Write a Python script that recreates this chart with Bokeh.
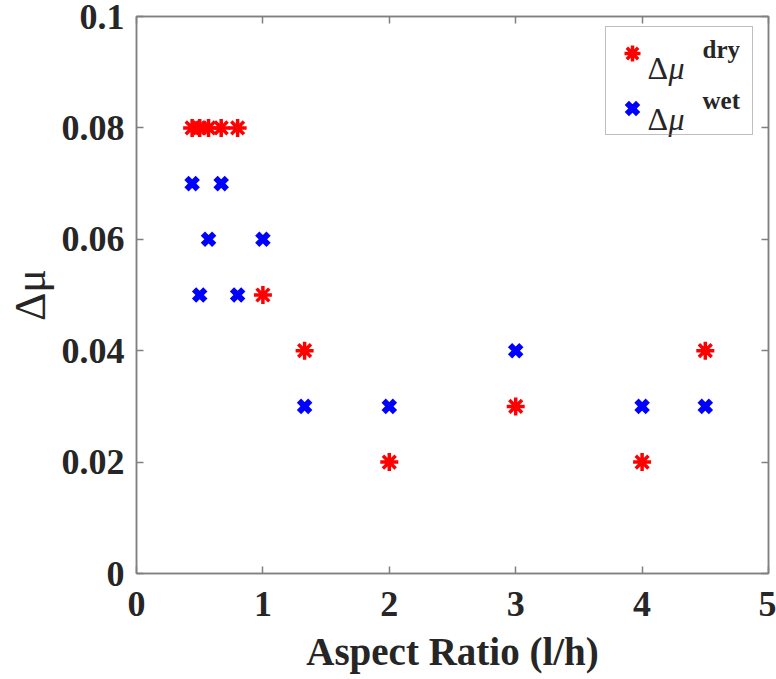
from bokeh.plotting import figure
from bokeh.models import (LinearAxis, FixedTicker, Legend, LegendItem, Label,
                          ColumnDataSource, Range1d)
from bokeh.embed import file_html
from bokeh.resources import INLINE

# ---- data ----
aspect_ratio = [0.44, 0.5, 0.57, 0.67, 0.8, 1.0, 1.33, 2.0, 3.0, 4.0, 4.5]
dmu_dry = [0.08, 0.08, 0.08, 0.08, 0.08, 0.05, 0.04, 0.02, 0.03, 0.02, 0.04]
dmu_wet = [0.07, 0.05, 0.06, 0.07, 0.05, 0.06, 0.03, 0.03, 0.04, 0.03, 0.03]
x_ticks = [0, 1, 2, 3, 4, 5]
y_ticks = [0, 0.02, 0.04, 0.06, 0.08, 0.1]
y_tick_labels = ["0", "0.02", "0.04", "0.06", "0.08", "0.1"]
x_title = "Aspect Ratio (l/h)"
y_title = "Δμ"
series_sup = ["dry", "wet"]

FONT = "Liberation Serif"
GREY = "#808080"
TXT = "#262626"

p = figure(width=776, height=678, output_backend="svg", toolbar_location=None,
           x_range=Range1d(0, 5), y_range=Range1d(0, 0.1),
           min_border_left=136, min_border_right=8, min_border_top=16,
           min_border_bottom=105)
p.xgrid.visible = False
p.ygrid.visible = False
p.outline_line_color = GREY
p.outline_line_width = 1.5
p.background_fill_color = "white"
p.border_fill_color = "white"

src = ColumnDataSource(dict(x=aspect_ratio, dry=dmu_dry, wet=dmu_wet))
r_dry = p.scatter("x", "dry", source=src, marker="asterisk", size=18,
                  line_color="red", line_width=3.5)
r_wet = p.scatter("x", "wet", source=src, marker="x", size=16,
                  line_color="blue", line_width=6)

def style_axis(ax, labels=True):
    ax.axis_line_color = GREY
    ax.axis_line_width = 1.5
    ax.major_tick_line_color = GREY
    ax.major_tick_line_width = 1.5
    ax.major_tick_in = 7
    ax.major_tick_out = 0
    ax.minor_tick_line_color = None
    if labels:
        ax.major_label_text_font = FONT
        ax.major_label_text_font_style = "bold"
        ax.major_label_text_font_size = "36px"
        ax.major_label_text_color = TXT
        ax.axis_label_text_font = FONT
        ax.axis_label_text_font_style = "bold"
        ax.axis_label_text_color = TXT
    else:
        ax.major_label_text_font_size = "0px"
        ax.major_label_text_alpha = 0
        ax.major_label_standoff = 0

xa = p.xaxis[0]
xa.ticker = FixedTicker(ticks=x_ticks)
style_axis(xa)
xa.axis_label = x_title
xa.axis_label_text_font_size = "39px"
xa.major_label_standoff = 18
xa.axis_label_standoff = 11

ya = p.yaxis[0]
ya.ticker = FixedTicker(ticks=y_ticks)
ya.major_label_overrides = {t: s for t, s in zip(y_ticks, y_tick_labels)}
style_axis(ya)
ya.major_label_standoff = 12
ya.axis_label = y_title
ya.axis_label_text_font_size = "44px"
ya.axis_label_text_font_style = "normal"
ya.axis_label_standoff = 4

top = LinearAxis(ticker=FixedTicker(ticks=x_ticks))
style_axis(top, labels=False)
p.add_layout(top, "above")
right = LinearAxis(ticker=FixedTicker(ticks=y_ticks))
style_axis(right, labels=False)
p.add_layout(right, "right")

legend = Legend(items=[LegendItem(label=" ", renderers=[r_dry]),
                       LegendItem(label=" ", renderers=[r_wet])],
                location=(469, 438))
legend.label_text_font = FONT
legend.label_text_font_size = "10px"
legend.label_width = 89
legend.label_height = 40
legend.label_standoff = 5
legend.glyph_width = 40
legend.glyph_height = 40
legend.spacing = 15
legend.padding = 6
legend.margin = 0
legend.border_line_color = GREY
legend.border_line_width = 1.5
legend.background_fill_alpha = 0.0
p.add_layout(legend)

for i, (sup, yb) in enumerate(zip(series_sup, [506, 455])):
    p.add_layout(Label(x=511, y=yb, x_units="screen", y_units="screen",
                       text="Δ", text_font=FONT, text_font_size="32px",
                       text_color=TXT, text_baseline="alphabetic"))
    p.add_layout(Label(x=532, y=yb, x_units="screen", y_units="screen",
                       text="μ", text_font=FONT, text_font_style="italic",
                       text_font_size="32px", text_color=TXT,
                       text_baseline="alphabetic"))
    p.add_layout(Label(x=566, y=yb + 18, x_units="screen", y_units="screen",
                       text=sup, text_font=FONT, text_font_style="bold",
                       text_font_size="25px", text_color=TXT,
                       text_baseline="alphabetic"))

open("out.html", "w").write(file_html(p, INLINE))
